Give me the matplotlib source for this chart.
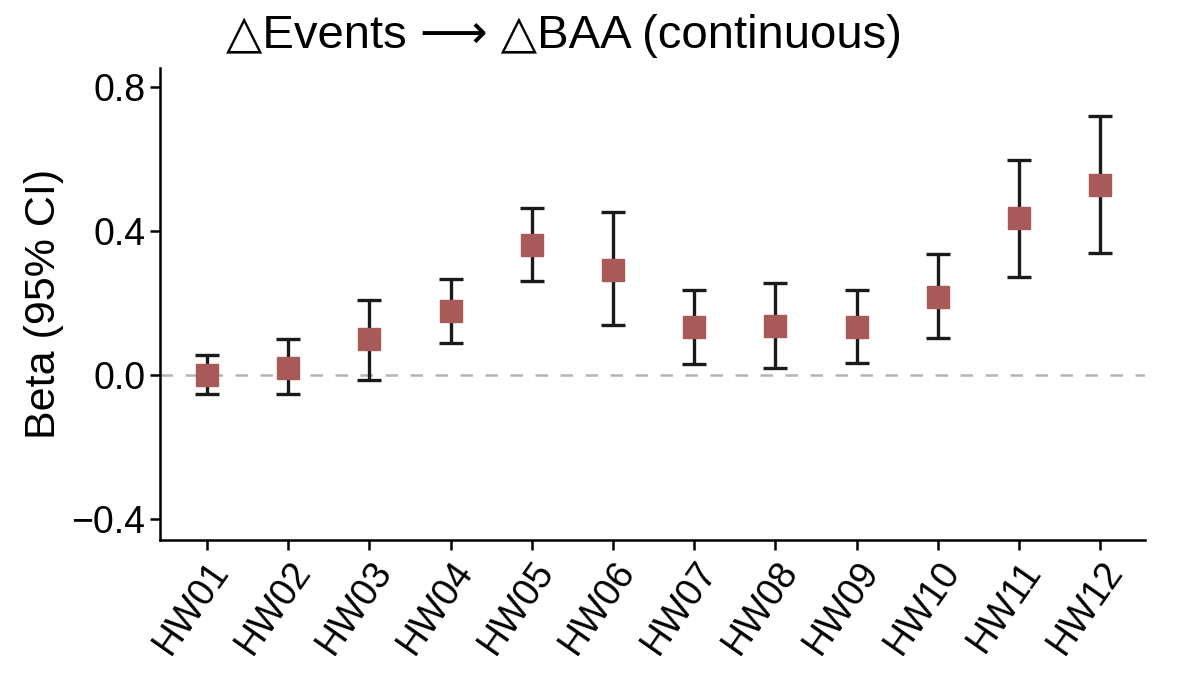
import matplotlib
matplotlib.use('Agg')
import matplotlib.pyplot as plt

# values
labels = ['HW01', 'HW02', 'HW03', 'HW04', 'HW05', 'HW06',
          'HW07', 'HW08', 'HW09', 'HW10', 'HW11', 'HW12']
beta = [0.00, 0.02, 0.10, 0.178, 0.361, 0.292, 0.133, 0.136, 0.133, 0.217, 0.436, 0.528]
ci_low = [-0.053, -0.053, -0.014, 0.089, 0.261, 0.139, 0.031, 0.019, 0.033, 0.103, 0.272, 0.339]
ci_high = [0.055, 0.10, 0.21, 0.267, 0.464, 0.453, 0.236, 0.256, 0.236, 0.336, 0.597, 0.719]
yticks = [-0.4, 0.0, 0.4, 0.8]

plt.rcParams['font.family'] = ['Liberation Sans', 'DejaVu Sans']

fig = plt.figure(figsize=(12, 6.75), dpi=100)
ax = fig.add_axes([0.1333, 0.2, 0.8208, 0.699])

x = list(range(1, len(labels) + 1))
err = [[b - lo for b, lo in zip(beta, ci_low)],
       [hi - b for b, hi in zip(beta, ci_high)]]

ax.axhline(0, color='#b5b5b5', lw=1.8, ls=(0, (5, 5)), zorder=1)
ax.errorbar(x, beta, yerr=err, fmt='none', ecolor='#1a1a1a',
            elinewidth=2.4, capsize=8.6, capthick=2.4, zorder=2)
ax.plot(x, beta, 's', color='#a85a58', markersize=16, zorder=3)

ax.set_xlim(0.42, 12.55)
ax.set_ylim(-0.458, 0.853)
ax.set_yticks(yticks)
ax.set_yticklabels(['\u22120.4', '0.0', '0.4', '0.8'])
ax.set_xticks(x)
ax.set_xticklabels(labels, rotation=55, ha='right', rotation_mode='anchor')

ax.tick_params(labelsize=27, width=1.8, length=7, colors='black')
for s in ['top', 'right']:
    ax.spines[s].set_visible(False)
for s in ['left', 'bottom']:
    ax.spines[s].set_linewidth(1.8)

ax.set_ylabel('Beta (95% CI)', fontsize=31, labelpad=5)
fig.text(0.47, 0.946, '\u25b3Events \u27f6 \u25b3BAA (continuous)',
         fontsize=34, ha='center', va='center')

fig.savefig('out.png', dpi=100)
